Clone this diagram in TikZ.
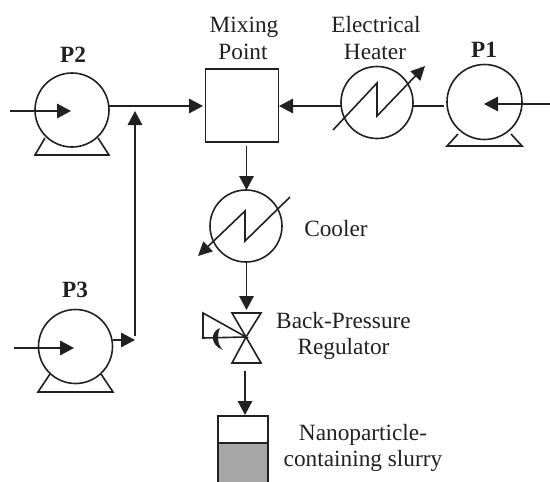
\documentclass[tikz,border=0pt]{standalone}
\usepackage{fontspec}
\setmainfont{Liberation Serif}
\usetikzlibrary{arrows.meta}
\definecolor{ink}{gray}{0.13}
\tikzset{
  x=1pt,y=-1pt,
  wire/.style={draw=ink,line width=1.6pt},
  flow/.style={wire,-{Triangle[length=14pt,width=14.5pt]}},
  disc/.style={circle,draw=ink,line width=1.6pt,minimum size=#1,inner sep=0pt,outer sep=0pt},
  basket/.style={draw=ink,line width=1.6pt,line join=miter},
  lab/.style={font=\fontsize{23.3}{23.3}\selectfont,text=ink,inner sep=0pt,anchor=base},
  blab/.style={lab,font=\fontsize{23.3}{23.3}\selectfont\bfseries},
  squarebox/.style={draw=ink,line width=1.6pt,minimum width=73pt,minimum height=73pt,inner sep=0pt,outer sep=0pt}
}
\begin{document}
\begin{tikzpicture}
\useasboundingbox (0,0) rectangle (550,482);
\fill[white] (0,0) rectangle (550,482);
% equipment
\node[disc=75pt] (p1) at (484.5,102) {};
\node[disc=74pt] (p2) at (72,110) {};
\node[disc=74pt] (p3) at (75.5,346.5) {};
\node[disc=72pt] (heater) at (377,102.5) {};
\node[disc=72pt] (cooler) at (246,226) {};
\node[squarebox] (mix) at (242,105.5) {};
% pump bases
\draw[basket] (458,134)--(447,146)--(522,146)--(511,134);
\draw[basket] (45,138)--(35,155)--(109,155)--(98,138);
\draw[basket] (50,374)--(38,392)--(113,392)--(101,374);
% coordinates
\coordinate (p1in) at (550,104);
\coordinate (p1tip) at (484,104);
\coordinate (p2in) at (10,111);
\coordinate (p2tip) at (71,111);
\coordinate (p3in) at (14,348);
\coordinate (p3tip) at (74,348);
\coordinate (p2out) at (109,106);
\coordinate (mixl) at (203,106);
\coordinate (up) at (135,336);
\coordinate (uptip) at (135,111);
\coordinate (p3out) at (113,340);
\coordinate (p3end) at (135,340);
\coordinate (hl) at (342,106);
\coordinate (hr) at (413,106);
\coordinate (p1l) at (444,106);
\coordinate (mixr) at (279,106);
\coordinate (mixb) at (246.5,146);
\coordinate (cooltop) at (246.5,190);
\coordinate (coolb) at (246.5,263);
\coordinate (vtop) at (246.5,310);
\coordinate (vbot) at (245,371);
\coordinate (vessel) at (245,415);
% connectors
\draw[flow] (p1in)--(p1tip);
\draw[flow] (p2in)--(p2tip);
\draw[flow] (p3in)--(p3tip);
\draw[flow] (p2out)--(mixl);
\draw[flow] (p3out)--(p3end);
\draw[flow] (up)--(uptip);
\draw[wire] (hr)--(p1l);
\draw[flow] (hl)--(mixr);
\draw[flow] (mixb)--(cooltop);
\draw[flow] (coolb)--(vtop);
\draw[flow] (vbot)--(vessel);
% heater zigzag
\draw[wire,-{Triangle[length=14pt,width=13.5pt]}] (333,130)--(377,83)--(377,116)--(425,66);
% cooler zigzag
\draw[wire,-{Triangle[length=14pt,width=13.5pt]}] (290,197)--(245,241)--(245,211)--(198,256);
% valve
\coordinate (vc) at (246,337);
\draw[basket] (232,313)--(261,313)--(vc)--cycle;
\draw[basket] (232,363)--(261,363)--(vc)--cycle;
\draw[basket] (vc)--(203,338)--(203,313)--cycle;
\fill[ink] (220,328) .. controls (210,332) and (210,345) .. (223,350) .. controls (217,345) and (217,334) .. (220,328) -- cycle;
% vessel
\fill[gray!70!white] (218,443) rectangle (268,482);
\draw[basket] (218,482)--(218,416)--(268,416)--(268,482);
\draw[basket] (218,443)--(268,443);
% labels
\node[lab] (t1) at (244,32) {Mixing};
\node[lab] (t2) at (243,59) {Point};
\node[lab] (t3) at (376,32) {Electrical};
\node[lab] (t4) at (375,59) {Heater};
\node[blab] (t5) at (484,57) {P1};
\node[blab] (t6) at (73,62) {P2};
\node[blab] (t7) at (75,297) {P3};
\node[lab] (t8) at (336,236) {Cooler};
\node[lab] (t9) at (343.5,328) {Back-Pressure};
\node[lab] (t10) at (343.5,354) {Regulator};
\node[lab] (t11) at (363,440) {Nanoparticle-};
\node[lab] (t12) at (363,466) {containing slurry};
\end{tikzpicture}
\end{document}
